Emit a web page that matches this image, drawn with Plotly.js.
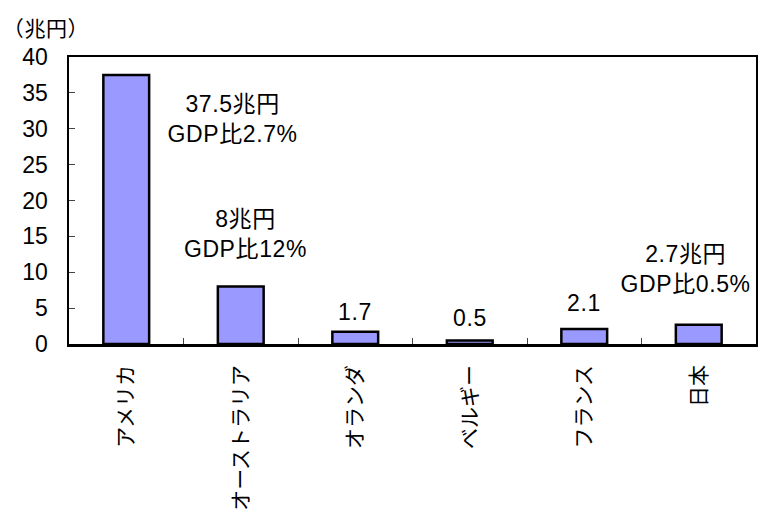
<!DOCTYPE html>
<html>
<head>
<meta charset="utf-8">
<script src="https://cdn.plot.ly/plotly-3.0.1.min.js"></script>
<style>
  html, body { margin: 0; padding: 0; background: #fff; }
  #chart { width: 758px; height: 512px; }
  /* slightly looser spacing for the value labels */
  #chart .annotation-text { letter-spacing: 0.6px; }
</style>
</head>
<body>
<div id="chart"></div>
<script>
// Countries and amounts (兆円)
const countries = ["アメリカ", "オーストラリア", "オランダ", "ベルギー", "フランス", "日本"];
const amounts = [37.5, 8, 1.7, 0.5, 2.1, 2.7];
// GDP ratio shown for some countries (null = not shown)
const gdpRatio = ["2.7%", "12%", null, null, null, "0.5%"];
// Label anchor positions (category index, value) for each label
const labelX = [0.93, 1.04, 2.0, 3.0, 4.0, 4.88];
const labelY = [31.3, 15.3, 4.5, 3.6, 5.7, 10.5];
const yTicks = [0, 5, 10, 15, 20, 25, 30, 35, 40];

const FONT = '"Liberation Sans", Arial, "Noto Sans CJK JP", sans-serif';

const annotations = amounts.map((v, i) => ({
  xref: 'x', yref: 'y',
  x: labelX[i], y: labelY[i],
  text: gdpRatio[i] ? `${v}兆円<br>GDP比${gdpRatio[i]}` : `${v}`,
  showarrow: false,
  font: { family: FONT, size: 23, color: '#000' },
  align: 'center'
}));

annotations.push({
  xref: 'paper', yref: 'paper',
  x: -0.097, y: 1.0, yanchor: 'bottom', xanchor: 'left', yshift: 15,
  text: '（兆円）',
  showarrow: false,
  font: { family: FONT, size: 21, color: '#000' }
});

const trace = {
  type: 'bar',
  x: countries.map((c, i) => i),
  y: amounts,
  width: 0.4,
  marker: { color: '#9999FF', line: { color: '#000', width: 2.5 } },
  hoverinfo: 'skip'
};

const layout = {
  width: 758, height: 512,
  margin: { l: 69, r: 2, t: 57, b: 168 },
  paper_bgcolor: '#fff', plot_bgcolor: '#fff',
  showlegend: false,
  font: { family: FONT, color: '#000' },
  xaxis: {
    type: 'linear',
    range: [-0.5, 5.5],
    tickmode: 'array',
    tickvals: countries.map((c, i) => i),
    ticktext: countries,
    tickangle: -90,
    ticks: '',
    showgrid: false, zeroline: false,
    showline: true, linecolor: '#000', linewidth: 2.5, mirror: true,
    tickfont: { family: FONT, size: 21, color: '#000' },
    ticklabelstandoff: 10,
    fixedrange: true
  },
  xaxis2: {
    overlaying: 'x', anchor: 'y',
    range: [-0.5, 5.5],
    tickmode: 'array',
    tickvals: [0.5, 1.5, 2.5, 3.5, 4.5],
    ticks: 'inside', ticklen: 6, tickwidth: 1, tickcolor: '#444',
    showticklabels: false, showgrid: false, zeroline: false, showline: false,
    side: 'bottom'
  },
  yaxis: {
    range: [0, 40],
    tickmode: 'array',
    tickvals: yTicks,
    ticks: 'inside', ticklen: 6, tickwidth: 1, tickcolor: '#444',
    showgrid: false, zeroline: false,
    showline: true, linecolor: '#000', linewidth: 2.5, mirror: true,
    tickfont: { family: FONT, size: 23, color: '#000' },
    ticklabelstandoff: 14,
    fixedrange: true
  },
  annotations: annotations
};

// invisible trace so the boundary ticks of the overlaid axis are drawn
const tickTrace = { type: 'scatter', x: [0], y: [0], xaxis: 'x2', mode: 'markers',
  marker: { opacity: 0 }, hoverinfo: 'skip' };

Plotly.newPlot('chart', [trace, tickTrace], layout, { staticPlot: true, displayModeBar: false });
</script>
</body>
</html>
